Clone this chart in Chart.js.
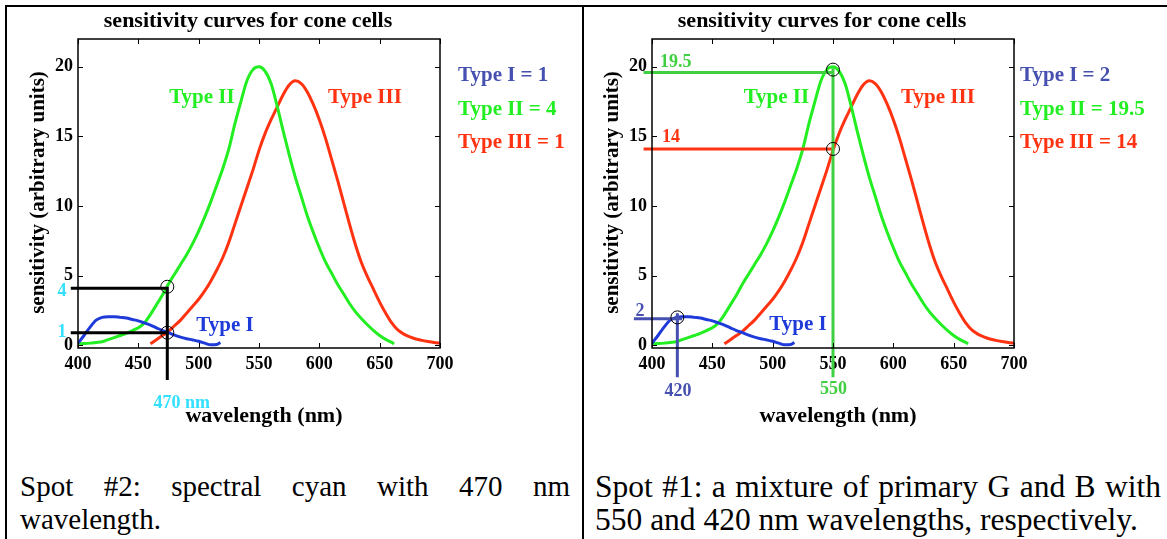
<!DOCTYPE html>
<html>
<head>
<meta charset="utf-8">
<script src="https://cdn.jsdelivr.net/npm/chart.js@4.4.1/dist/chart.umd.min.js"></script>
<style>
  html, body { margin: 0; padding: 0; background: #fff; }
  body { width: 1167px; height: 539px; position: relative; overflow: hidden; }
  canvas { position: absolute; top: 0; }
  .rule { position: absolute; background: #000; }
  .caption {
    position: absolute;
    top: 470px;
    font-family: "Liberation Serif", "Times New Roman", serif;
    font-size: 29px;
    line-height: 33px;
    text-align: justify;
    color: #000;
  }
</style>
</head>
<body>
<canvas id="leftChart" width="583" height="440" style="left:0"></canvas>
<canvas id="rightChart" width="584" height="440" style="left:583px"></canvas>
<div class="rule" style="left:5px;top:5px;width:1162px;height:2px"></div>
<div class="rule" style="left:5px;top:5px;width:2px;height:534px"></div>
<div class="rule" style="left:582px;top:5px;width:2px;height:534px"></div>
<div class="caption" style="left:20px;width:550px">Spot #2: spectral cyan with 470 nm wavelength.</div>
<div class="caption" style="left:595px;width:566px;font-size:31.5px">Spot #1: a mixture of primary G and B with 550 and 420 nm wavelengths, respectively.</div>

<script>
const xTicks = [400, 450, 500, 550, 600, 650, 700];
const yTicks = [0, 5, 10, 15, 20];

// cone sensitivity curves
const typeIWavelengths = [400, 405, 410, 415, 420, 425, 430, 435, 440, 445, 450, 455, 460,
  465, 470, 475, 480, 485, 490, 495, 500, 505, 510, 515, 518];
const typeIValues = [0.15, 0.7, 1.3, 1.8, 2.0, 2.05, 2.05, 2.0, 1.95, 1.85, 1.75, 1.6, 1.45,
  1.25, 1.05, 0.9, 0.72, 0.58, 0.47, 0.38, 0.28, 0.15, 0.03, 0.05, 0.2];

const typeIIWavelengths = [400, 405, 410, 415, 420, 425, 430, 435, 440, 445, 450, 455, 460,
  465, 470, 475, 480, 485, 490, 495, 500, 505, 510, 515, 520, 525, 530, 535, 540, 545, 550,
  555, 560, 565, 570, 575, 580, 585, 590, 595, 600, 605, 610, 615, 620, 625, 630, 635, 640,
  645, 650, 655, 660, 662];
const typeIIValues = [0.1, 0.12, 0.15, 0.2, 0.25, 0.4, 0.55, 0.7, 0.85, 1.05, 1.25, 1.6, 2.2,
  2.9, 3.6, 4.4, 5.1, 5.8, 6.5, 7.3, 8.2, 9.2, 10.3, 11.5, 12.7, 14.1, 15.9, 17.5, 19.0, 19.8, 20.0,
  19.7, 18.8, 17.2, 15.4, 13.7, 12.1, 10.7, 9.3, 8.1, 7.0, 6.0, 5.2, 4.4, 3.7, 3.0, 2.4, 1.9, 1.45,
  1.05, 0.7, 0.42, 0.2, 0.1];

const typeIIIWavelengths = [460, 465, 470, 475, 480, 485, 490, 495, 500, 505, 510, 515, 520,
  525, 530, 535, 540, 545, 550, 555, 560, 565, 570, 575, 580, 585, 590, 595, 600, 605, 610,
  615, 620, 625, 630, 635, 640, 645, 650, 655, 660, 665, 670, 675, 680, 685, 690, 695, 700];
const typeIIIValues = [0.1, 0.4, 0.7, 1.0, 1.4, 1.8, 2.3, 2.8, 3.3, 3.9, 4.6, 5.4, 6.3,
  7.4, 8.7, 10.0, 11.3, 12.6, 14.0, 15.2, 16.2, 17.1, 18.0, 18.7, 19.0, 18.8, 18.2, 17.3, 16.2, 14.9, 13.4,
  11.9, 10.3, 8.7, 7.2, 5.9, 4.9, 4.0, 3.1, 2.3, 1.6, 1.1, 0.8, 0.6, 0.45, 0.35, 0.27, 0.2, 0.15];

// spot #2 (left): reading at the probe wavelength
const spot2Wavelength = 474;
const spot2TypeII = 4.1;
const spot2TypeI = 0.9;

// spot #1 (right): readings at 550 and 420 nm
const spot1Green = 550;
const spot1TypeII = 19.6;
const spot1TypeIII = 14.1;
const spot1Blue = 421;
const spot1TypeI = 1.9;

const guideFrom = 394;
const guideDrop = -2.3;

const GREEN = "#22ee22";
const RED = "#ff3311";
const BLUE = "#1e3ad8";
const SLATE = "#4650b0";
const CYAN = "#33e0ff";
const GUIDE_GREEN = "#40cf40";
const SERIF = '"Liberation Serif", "Times New Roman", serif';

function toPoints(xs, ys) {
  return xs.map((x, i) => ({ x: x, y: ys[i] }));
}

function curve(xs, ys, color) {
  return {
    data: toPoints(xs, ys),
    borderColor: color,
    borderWidth: 3,
    pointRadius: 0,
    cubicInterpolationMode: "monotone",
    order: 2,
  };
}

function guide(points, color) {
  return {
    data: points,
    borderColor: color,
    borderWidth: 3,
    pointRadius: 0,
    tension: 0,
    clip: false,
    order: 1,
  };
}

function markers(points) {
  return {
    data: points,
    showLine: false,
    pointRadius: 6.5,
    pointBorderWidth: 1,
    pointBorderColor: "#000",
    pointBackgroundColor: "rgba(0,0,0,0)",
    clip: false,
    order: 0,
  };
}

function decorPlugin(cfg) {
  return {
    id: "decor",
    afterDraw(chart) {
      const { ctx, chartArea: a } = chart;
      const x = chart.scales.x;
      const y = chart.scales.y;
      ctx.save();

      ctx.strokeStyle = "#000";
      ctx.lineWidth = 1.5;
      ctx.strokeRect(a.left, a.top, a.right - a.left, a.bottom - a.top);

      ctx.lineWidth = 1;
      ctx.beginPath();
      x.ticks.forEach((t) => {
        const px = Math.round(x.getPixelForValue(t.value)) + 0.5;
        ctx.moveTo(px, a.bottom); ctx.lineTo(px, a.bottom - 5);
        ctx.moveTo(px, a.top); ctx.lineTo(px, a.top + 5);
      });
      y.ticks.forEach((t) => {
        const py = Math.round(y.getPixelForValue(t.value)) + 0.5;
        ctx.moveTo(a.left, py); ctx.lineTo(a.left + 5, py);
        ctx.moveTo(a.right, py); ctx.lineTo(a.right - 5, py);
      });
      ctx.stroke();

      const midX = (a.left + a.right) / 2;
      const midY = (a.top + a.bottom) / 2;
      ctx.fillStyle = "#000";
      ctx.textBaseline = "middle";
      ctx.textAlign = "center";
      ctx.font = "bold 22px " + SERIF;
      ctx.fillText("sensitivity curves for cone cells", midX - 11, 21);

      ctx.font = "bold 22px " + SERIF;
      ctx.fillText("wavelength (nm)", midX + 5, 416);

      ctx.save();
      ctx.translate(a.left - 39, midY - 1);
      ctx.rotate(-Math.PI / 2);
      ctx.font = "bold 21px " + SERIF;
      ctx.fillText("sensitivity (arbitrary units)", 0, 0);
      ctx.restore();

      cfg.labels.forEach((l) => {
        ctx.font = "bold " + l.size + "px " + SERIF;
        ctx.fillStyle = l.color;
        ctx.textAlign = l.align || "center";
        ctx.fillText(l.text, x.getPixelForValue(l.x), y.getPixelForValue(l.y));
      });

      ctx.font = "bold 21px " + SERIF;
      ctx.textAlign = "left";
      cfg.legend.forEach((item, i) => {
        ctx.fillStyle = item[1];
        ctx.fillText(item[0], a.right + cfg.legendGap, a.top + 37 + i * 33.5);
      });
      ctx.restore();
    },
  };
}

function makeChart(id, plotLeft, plotRight, datasets, cfg) {
  const canvas = document.getElementById(id);
  return new Chart(canvas, {
    type: "line",
    data: { datasets: datasets },
    options: {
      responsive: false,
      animation: false,
      events: [],
      layout: { padding: { left: 0, top: 39, right: canvas.width - plotRight, bottom: 0 } },
      plugins: { legend: { display: false }, tooltip: { enabled: false }, title: { display: false } },
      scales: {
        x: {
          type: "linear",
          min: 400,
          max: 700,
          afterBuildTicks: (s) => { s.ticks = xTicks.map((v) => ({ value: v })); },
          afterFit: (s) => { s.height = 92; },
          grid: { display: false, drawTicks: false },
          border: { display: false },
          ticks: { color: "#000", padding: 6, font: { family: SERIF, size: 18, weight: "bold" } },
        },
        y: {
          min: -0.2,
          max: 22,
          afterBuildTicks: (s) => { s.ticks = yTicks.map((v) => ({ value: v })); },
          afterFit: (s) => { s.width = plotLeft; },
          grid: { display: false, drawTicks: false },
          border: { display: false },
          ticks: { color: "#000", padding: 5, font: { family: SERIF, size: 18, weight: "bold" } },
        },
      },
    },
    plugins: [decorPlugin(cfg)],
  });
}

const curves = () => [
  curve(typeIWavelengths, typeIValues, BLUE),
  curve(typeIIWavelengths, typeIIValues, GREEN),
  curve(typeIIIWavelengths, typeIIIValues, RED),
];

makeChart("leftChart", 78, 440, [
  ...curves(),
  guide([{ x: guideFrom, y: spot2TypeII }, { x: spot2Wavelength, y: spot2TypeII },
    { x: spot2Wavelength, y: guideDrop - 0.2 }], "#000"),
  guide([{ x: guideFrom, y: spot2TypeI }, { x: spot2Wavelength, y: spot2TypeI }], "#000"),
  markers([{ x: spot2Wavelength, y: spot2TypeII + 0.1 }, { x: spot2Wavelength, y: spot2TypeI }]),
], {
  legendGap: 18,
  legend: [["Type I = 1", SLATE], ["Type II = 4", GREEN], ["Type III = 1", RED]],
  labels: [
    { text: "Type II", x: 502.7, y: 17.8, color: GREEN, size: 21 },
    { text: "Type III", x: 637.8, y: 17.8, color: RED, size: 21 },
    { text: "Type I", x: 521.8, y: 1.4, color: BLUE, size: 21 },
    { text: "4", x: 386.7, y: 3.85, color: CYAN, size: 18 },
    { text: "1", x: 386.7, y: 0.96, color: CYAN, size: 18 },
    { text: "470 nm", x: 486, y: -4.2, color: CYAN, size: 18 },
  ],
});

makeChart("rightChart", 69, 431, [
  ...curves(),
  guide([{ x: guideFrom - 1, y: spot1TypeII }, { x: spot1Green, y: spot1TypeII }], GUIDE_GREEN),
  guide([{ x: spot1Green, y: 19.9 }, { x: spot1Green, y: guideDrop }], GUIDE_GREEN),
  guide([{ x: guideFrom - 1, y: spot1TypeIII }, { x: spot1Green, y: spot1TypeIII }], RED),
  guide([{ x: 385, y: spot1TypeI }, { x: spot1Blue + 4, y: spot1TypeI }], SLATE),
  guide([{ x: spot1Blue, y: 2.3 }, { x: spot1Blue, y: guideDrop }], SLATE),
  markers([{ x: spot1Green, y: 19.8 }, { x: spot1Green, y: spot1TypeIII }, { x: spot1Blue, y: 2.0 }]),
], {
  legendGap: 6,
  legend: [["Type I = 2", SLATE], ["Type II = 19.5", GREEN], ["Type III = 14", RED]],
  labels: [
    { text: "Type II", x: 503.1, y: 17.8, color: GREEN, size: 21 },
    { text: "Type III", x: 637, y: 17.8, color: RED, size: 21 },
    { text: "Type I", x: 521, y: 1.5, color: BLUE, size: 21 },
    { text: "19.5", x: 406.6, y: 20.35, color: GUIDE_GREEN, size: 18, align: "left" },
    { text: "14", x: 408.3, y: 14.96, color: RED, size: 18, align: "left" },
    { text: "2", x: 390, y: 2.45, color: SLATE, size: 18 },
    { text: "420", x: 421.5, y: -3.3, color: SLATE, size: 18 },
    { text: "550", x: 550.4, y: -3.17, color: GUIDE_GREEN, size: 18 },
  ],
});
</script>
</body>
</html>
